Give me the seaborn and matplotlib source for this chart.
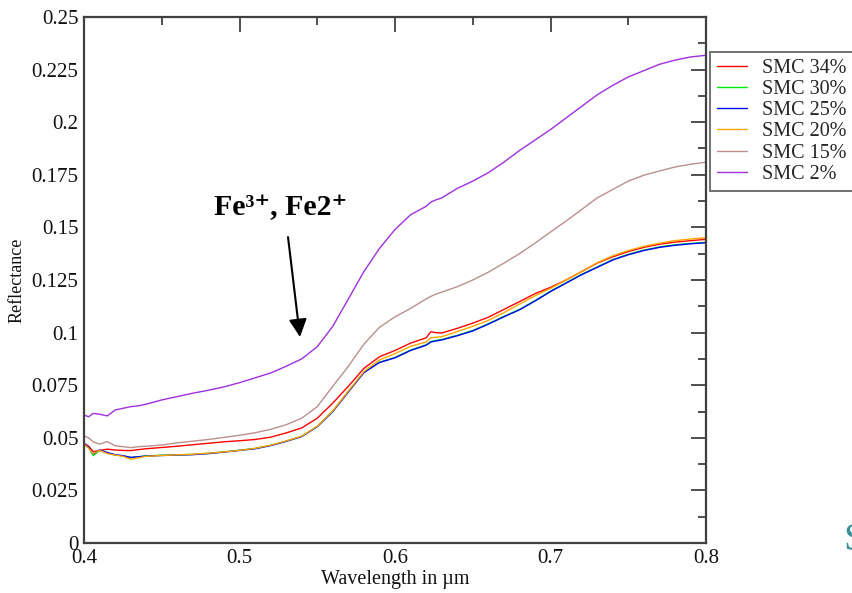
import numpy as np
import pandas as pd
import matplotlib
matplotlib.use("Agg")
import matplotlib.pyplot as plt
import seaborn as sns

wavelength = [0.400, 0.403, 0.406, 0.410, 0.415, 0.420, 0.425, 0.430, 0.435, 0.440,
              0.450, 0.460, 0.470, 0.480, 0.490, 0.500, 0.510, 0.520, 0.530, 0.540,
              0.550, 0.560, 0.570, 0.580, 0.590, 0.600, 0.610, 0.620, 0.623, 0.626,
              0.630, 0.640, 0.650, 0.660, 0.670, 0.680, 0.690, 0.700, 0.710, 0.720,
              0.730, 0.740, 0.750, 0.760, 0.770, 0.780, 0.790, 0.800]

smc34 = [0.0474, 0.0460, 0.0434, 0.0440, 0.0446, 0.0442, 0.0440, 0.0439, 0.0444, 0.0448,
         0.0454, 0.0460, 0.0467, 0.0474, 0.0481, 0.0486, 0.0492, 0.0503, 0.0523, 0.0547,
         0.0593, 0.0665, 0.0745, 0.0830, 0.0885, 0.0915, 0.0950, 0.0975, 0.1004, 0.1000,
         0.0998, 0.1020, 0.1045, 0.1073, 0.1110, 0.1147, 0.1185, 0.1215, 0.1250, 0.1290,
         0.1330, 0.1360, 0.1385, 0.1405, 0.1420, 0.1430, 0.1437, 0.1443]

smc30 = [0.0468, 0.0452, 0.0415, 0.0440, 0.0428, 0.0418, 0.0414, 0.0406, 0.0410, 0.0414,
         0.0417, 0.0419, 0.0421, 0.0426, 0.0433, 0.0441, 0.0449, 0.0464, 0.0484, 0.0507,
         0.0554, 0.0626, 0.0719, 0.0811, 0.0859, 0.0882, 0.0917, 0.0942, 0.0957, 0.0962,
         0.0967, 0.0987, 0.1010, 0.1042, 0.1077, 0.1110, 0.1152, 0.1197, 0.1237, 0.1277,
         0.1312, 0.1347, 0.1372, 0.1392, 0.1407, 0.1417, 0.1424, 0.1429]

smc25 = [0.0472, 0.0455, 0.0423, 0.0442, 0.0430, 0.0420, 0.0415, 0.0407, 0.0410, 0.0413,
         0.0416, 0.0418, 0.0420, 0.0425, 0.0432, 0.0440, 0.0448, 0.0463, 0.0483, 0.0506,
         0.0553, 0.0625, 0.0718, 0.0810, 0.0858, 0.0880, 0.0915, 0.0940, 0.0955, 0.0960,
         0.0965, 0.0985, 0.1008, 0.1040, 0.1075, 0.1108, 0.1150, 0.1195, 0.1235, 0.1275,
         0.1310, 0.1345, 0.1370, 0.1390, 0.1405, 0.1415, 0.1422, 0.1427]

smc20 = [0.0470, 0.0450, 0.0425, 0.0440, 0.0425, 0.0418, 0.0412, 0.0398, 0.0405, 0.0412,
         0.0416, 0.0419, 0.0422, 0.0427, 0.0433, 0.0440, 0.0450, 0.0465, 0.0485, 0.0508,
         0.0555, 0.0628, 0.0722, 0.0815, 0.0870, 0.0900, 0.0935, 0.0955, 0.0975, 0.0978,
         0.0980, 0.1005, 0.1030, 0.1058, 0.1095, 0.1135, 0.1175, 0.1210, 0.1250, 0.1290,
         0.1332, 0.1365, 0.1390, 0.1410, 0.1425, 0.1437, 0.1445, 0.1451]

smc15 = [0.0509, 0.0500, 0.0480, 0.0470, 0.0482, 0.0462, 0.0458, 0.0453, 0.0458, 0.0460,
         0.0466, 0.0476, 0.0484, 0.0492, 0.0502, 0.0512, 0.0524, 0.0540, 0.0562, 0.0593,
         0.0648, 0.0745, 0.0840, 0.0945, 0.1025, 0.1075, 0.1115, 0.1160, 0.1172, 0.1182,
         0.1192, 0.1218, 0.1250, 0.1287, 0.1330, 0.1375, 0.1425, 0.1478, 0.1530, 0.1585,
         0.1640, 0.1680, 0.1720, 0.1748, 0.1768, 0.1787, 0.1800, 0.1810]

smc2 = [0.0608, 0.0600, 0.0616, 0.0612, 0.0604, 0.0632, 0.0640, 0.0648, 0.0652, 0.0660,
        0.0680, 0.0696, 0.0712, 0.0726, 0.0742, 0.0762, 0.0785, 0.0808, 0.0840, 0.0875,
        0.0933, 0.1030, 0.1160, 0.1290, 0.1400, 0.1490, 0.1560, 0.1600, 0.1620, 0.1630,
        0.1640, 0.1685, 0.1720, 0.1760, 0.1810, 0.1865, 0.1915, 0.1965, 0.2020, 0.2075,
        0.2130, 0.2175, 0.2215, 0.2245, 0.2275, 0.2295, 0.2310, 0.2318]

series_names = ["SMC 34%", "SMC 30%", "SMC 25%", "SMC 20%", "SMC 15%", "SMC 2%"]
series_values = [smc34, smc30, smc25, smc20, smc15, smc2]
series_colors = ["#ff0000", "#00ee00", "#0000ff", "#ffa500", "#bc8f8f", "#a030e0"]

xticks = [0.4, 0.5, 0.6, 0.7, 0.8]
xtick_labels = ["0.4", "0.5", "0.6", "0.7", "0.8"]
yticks = [0, 0.025, 0.05, 0.075, 0.1, 0.125, 0.15, 0.175, 0.2, 0.225, 0.25]
ytick_labels = ["0", "0.025", "0.05", "0.075", "0.1", "0.125", "0.15", "0.175", "0.2", "0.225", "0.25"]

rows = []
for name, vals in zip(series_names, series_values):
    for w, v in zip(wavelength, vals):
        rows.append({"Wavelength": w, "Reflectance": v, "Sample": name})
df = pd.DataFrame(rows)

sns.set_theme(style="white")
plt.rcParams["font.family"] = ["Liberation Serif", "DejaVu Serif"]

fig = plt.figure(figsize=(8.52, 5.93), dpi=100)
ax = fig.add_axes([84 / 852, 50 / 593, 622 / 852, 526 / 593])

sns.lineplot(data=df, x="Wavelength", y="Reflectance", hue="Sample",
             hue_order=series_names, palette=series_colors, sort=False,
             linewidth=1.0, ax=ax, legend=False, estimator=None)

ax.set_xlim(0.4, 0.8)
ax.set_ylim(0, 0.25)
ax.set_xticks(xticks)
ax.set_xticklabels(xtick_labels)
ax.set_yticks(yticks)
ax.set_yticklabels(ytick_labels)
ax.set_xticks(np.arange(0.45, 0.8, 0.1), minor=True)
ax.set_yticks(np.arange(0.0125, 0.25, 0.025), minor=True)

tick_col = "#404040"
ax.tick_params(which="both", direction="in", top=True, right=True, colors=tick_col,
               labelcolor="#111111", labelsize=15, pad=4)
ax.tick_params(which="major", length=11, width=1.3)
ax.tick_params(which="minor", length=5.5, width=1.3)
for sp in ax.spines.values():
    sp.set_color(tick_col)
    sp.set_linewidth(1.6)

ax.set_xlabel("Wavelength in µm", fontsize=14.5, labelpad=2, color="#111111")
ax.set_ylabel("Reflectance", fontsize=13, labelpad=4, color="#111111")

ax.text(0.4836, 0.1559, "Fe³⁺, Fe2⁺", fontsize=21.5, fontweight="bold",
        ha="left", va="baseline", color="black")
ax.annotate("", xy=(0.5389, 0.0979), xytext=(0.5312, 0.1454),
            arrowprops=dict(arrowstyle="-|>,head_length=0.9,head_width=0.45",
                            color="black", lw=1.5, shrinkA=0, shrinkB=0))

handles = [plt.Line2D([], [], color=c, lw=1.0) for c in series_colors]
leg = fig.legend(handles, series_names, loc="upper left",
                 bbox_to_anchor=(710 / 852, 1 - 52 / 593),
                 fontsize=14.5, frameon=True, fancybox=False,
                 handlelength=1.5, handletextpad=0.75, labelspacing=0.1,
                 borderpad=0.35, borderaxespad=0)
leg.get_frame().set_edgecolor(tick_col)
leg.get_frame().set_linewidth(1.3)

fig.text(843 / 852, 43 / 593, "S", fontsize=29, color="#3a8f98",
         ha="left", va="baseline")

fig.savefig("out.png", dpi=100)
